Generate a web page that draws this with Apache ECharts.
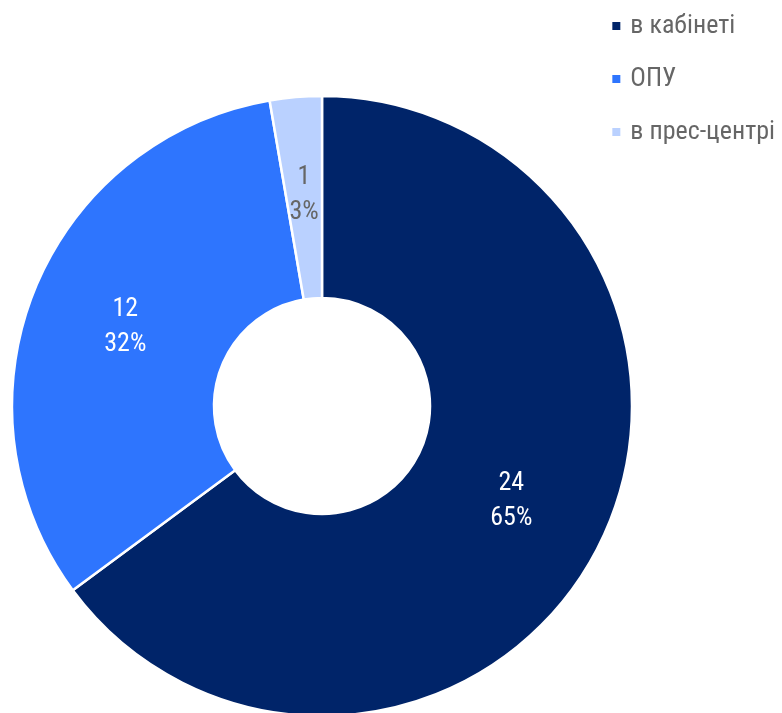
<!DOCTYPE html>
<html><head><meta charset="utf-8">
<script src="https://cdn.jsdelivr.net/npm/echarts@6/dist/echarts.min.js"></script>
<style>html,body{margin:0;padding:0;background:#fff}#c{width:782px;height:713px}</style>
</head><body><div id="c"></div>
<script>
const categories = ['в кабінеті', 'ОПУ', 'в прес-центрі'];
const values = [24, 12, 1];
const colors = ['#002469', '#2e75fe', '#bad1ff'];
const labelColors = ['#ffffff', '#ffffff', '#666666'];
const FONT = '"Roboto Condensed", "Liberation Sans Narrow", Roboto, sans-serif';
const chart = echarts.init(document.getElementById('c'));
chart.setOption({
  animation: false,
  legend: {
    orient: 'vertical', right: 2, top: 8,
    itemWidth: 10, itemHeight: 10, itemGap: 27, icon: 'rect',
    textStyle: { fontFamily: FONT, fontSize: 26, color: '#666666', padding: [0,0,0,4] },
    data: categories
  },
  series: [{
    type: 'pie',
    center: [322, 406], radius: [108, 310],
    startAngle: 90, clockwise: true,
    itemStyle: { borderColor: '#ffffff', borderWidth: 2.5 },
    label: {
      position: 'inside', fontFamily: FONT, fontSize: 26, lineHeight: 35,
      formatter: p => p.value + '\n' + Math.round(p.percent) + '%'
    },
    labelLine: { show: false },
    emphasis: { disabled: true },
    data: categories.map((n, i) => ({
      name: n, value: values[i],
      itemStyle: { color: colors[i] },
      label: { color: labelColors[i] }
    }))
  }]
});
</script></body></html>
